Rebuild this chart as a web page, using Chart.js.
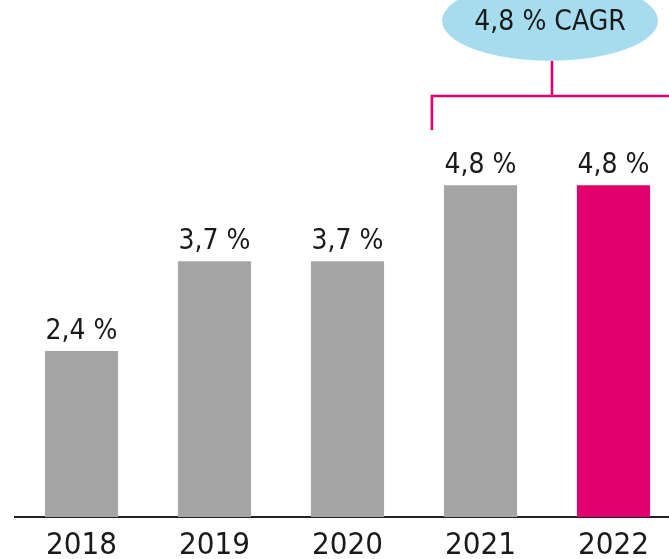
<!DOCTYPE html>
<html>
<head>
<meta charset="utf-8">
<script src="https://cdn.jsdelivr.net/npm/chart.js@4/dist/chart.umd.min.js"></script>
<style>
    html, body { margin: 0; padding: 0; background: #fff; overflow: hidden; }
    #wrap { width: 700px; height: 559px; }
</style>
</head>
<body>
<div id="wrap"><canvas id="growthChart" width="700" height="559"></canvas></div>
<script>
// Data
const years = ["2018", "2019", "2020", "2021", "2022"];
const growth = [2.4, 3.7, 3.7, 4.8, 4.8];
const valueLabels = ["2,4 %", "3,7 %", "3,7 %", "4,8 %", "4,8 %"];
const cagrLabel = "4,8 % CAGR";

const GREY = "#a5a5a5";
const MAGENTA = "#e2006f";
const FONT = "'Liberation Sans Narrow', 'DejaVu Sans Condensed', sans-serif";

// Value labels over bars + CAGR bracket
const labelsPlugin = {
    id: "labels",
    afterDatasetsDraw(chart) {
        const ctx = chart.ctx;
        const meta = chart.getDatasetMeta(0);
        const y = chart.scales.y;

        ctx.save();
        ctx.fillStyle = "#1a1a1a";
        ctx.font = "28px " + FONT;
        ctx.textAlign = "center";
        ctx.textBaseline = "alphabetic";
        meta.data.forEach((bar, i) => {
            ctx.fillText(valueLabels[i], bar.x, bar.y - 12);
        });

        // bracket over the last two years
        const b3 = meta.data[3];
        const b4 = meta.data[4];
        const left = b3.x - b3.width / 2 - 12;
        const mid = (b3.x + b4.x) / 2 + 5;
        const yLine = y.getPixelForValue(6.09);
        const yLeftEnd = y.getPixelForValue(5.6);
        const yEllBottom = y.getPixelForValue(6.6);
        const yEllCenter = y.getPixelForValue(7.18);

        ctx.strokeStyle = MAGENTA;
        ctx.lineWidth = 2.6;
        ctx.beginPath();
        ctx.moveTo(left, yLeftEnd);
        ctx.lineTo(left, yLine);
        ctx.lineTo(chart.width, yLine);
        ctx.moveTo(mid, yLine);
        ctx.lineTo(mid, yEllBottom);
        ctx.stroke();

        const ry = yEllBottom - yEllCenter;
        ctx.fillStyle = "#a6dcee";
        ctx.beginPath();
        ctx.ellipse(mid - 2, yEllCenter, 108, ry, 0, 0, Math.PI * 2);
        ctx.fill();

        ctx.fillStyle = "#1a1a1a";
        ctx.textBaseline = "middle";
        ctx.fillText(cagrLabel, mid - 2, yEllCenter + 2);
        ctx.restore();
    }
};

new Chart(document.getElementById("growthChart"), {
    type: "bar",
    data: {
        labels: years,
        datasets: [{
            data: growth,
            backgroundColor: growth.map((v, i) => i === growth.length - 1 ? MAGENTA : GREY),
            barPercentage: 0.55,
            categoryPercentage: 1.0,
        }]
    },
    options: {
        responsive: false,
        animation: false,
        layout: { padding: { left: 15, right: 20, top: 0, bottom: 0 } },
        plugins: { legend: { display: false }, tooltip: { enabled: false } },
        scales: {
            x: {
                grid: { display: false },
                border: { display: true, color: "#222", width: 2 },
                ticks: { color: "#1a1a1a", font: { family: FONT, size: 31 }, padding: 2 },
                afterFit(scale) { scale.height = 42; }
            },
            y: {
                display: false,
                min: 0,
                max: 7.48
            }
        }
    },
    plugins: [labelsPlugin]
});
</script>
</body>
</html>
